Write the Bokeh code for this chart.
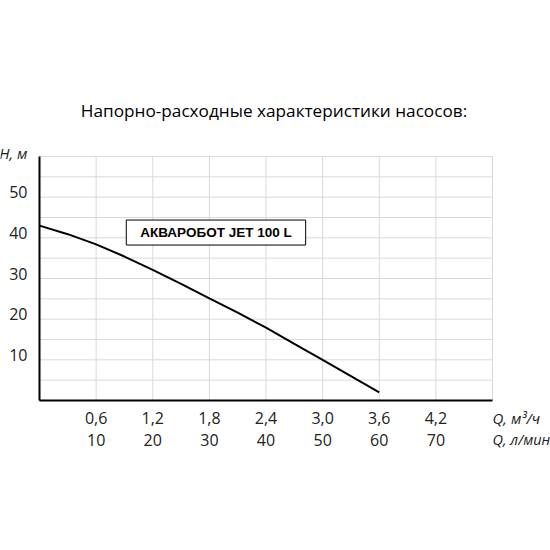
from bokeh.plotting import figure
from bokeh.models import Range1d, Label
from bokeh.core.properties import value
from bokeh.embed import file_html
from bokeh.resources import INLINE

# ---- Data ----
q_m3h = [0.0, 0.3, 0.6, 0.9, 1.2, 1.5, 1.8, 2.1, 2.4, 2.7, 3.0, 3.3, 3.6]
head_m = [43.0, 40.9, 38.4, 35.4, 32.1, 28.7, 25.1, 21.6, 17.9, 13.9, 10.0, 6.0, 2.0]

x_tick_pos = [0.6, 1.2, 1.8, 2.4, 3.0, 3.6, 4.2]
x_labels_m3h = ["0,6", "1,2", "1,8", "2,4", "3,0", "3,6", "4,2"]
x_labels_lmin = ["10", "20", "30", "40", "50", "60", "70"]
y_tick_pos = [10, 20, 30, 40, 50]
y_labels = ["10", "20", "30", "40", "50"]
grid_x = [0.6, 1.2, 1.8, 2.4, 3.0, 3.6, 4.2, 4.8]
grid_y = [5, 10, 15, 20, 25, 30, 35, 40, 45, 50, 55, 60]
x_max, y_max = 4.8, 60

title_text = "Напорно-расходные характеристики насосов:"
series_name = "АКВАРОБОТ JET 100 L"
x_unit_1 = "Q, м³/ч"
x_unit_2 = "Q, л/мин"
y_unit = "H, м"

FONT = "Open Sans"
TXT = "#222222"

# Frame spans whole canvas; plot area (0..4.8, 0..60) mapped to px 39..492 / 400..156
sx = 453 / x_max
sy = 244 / y_max
p = figure(width=550, height=550, output_backend="svg", toolbar_location=None,
           x_range=Range1d(-39 / sx, x_max + 58 / sx),
           y_range=Range1d(-150 / sy, y_max + 156 / sy),
           x_axis_location=None, y_axis_location=None, min_border=0)
p.outline_line_color = None
p.grid.visible = False
p.background_fill_color = "white"

# grid lines
p.segment(x0=grid_x, y0=[0] * len(grid_x), x1=grid_x, y1=[y_max] * len(grid_x),
          line_color="#d9d9d9", line_width=1)
p.segment(x0=[0] * len(grid_y), y0=grid_y, x1=[x_max] * len(grid_y), y1=grid_y,
          line_color="#d9d9d9", line_width=1)
# axis lines
p.segment(x0=[0, 0], y0=[0, 0], x1=[0, x_max], y1=[y_max, 0], line_color="black", line_width=2)

# curve
p.line(q_m3h, head_m, line_color="black", line_width=2, line_join="round")

# tick labels
p.text(x=x_tick_pos, y=[0] * len(x_tick_pos), text=x_labels_m3h, text_align="center",
       text_baseline="middle", y_offset=17, text_font=value(FONT), text_font_size="16px",
       text_color=TXT)
p.text(x=x_tick_pos, y=[0] * len(x_tick_pos), text=x_labels_lmin, text_align="center",
       text_baseline="middle", y_offset=39, text_font=value(FONT), text_font_size="16px",
       text_color=TXT)
p.text(x=[0] * len(y_tick_pos), y=y_tick_pos, text=y_labels, text_align="right",
       text_baseline="middle", x_offset=-12, y_offset=-5, text_font=value(FONT),
       text_font_size="16px", text_color=TXT)

# units
p.text(x=[x_max], y=[0], text=[x_unit_1], text_align="left", text_baseline="middle",
       x_offset=0, y_offset=17, text_font=value(FONT), text_font_style="italic",
       text_font_size="15px", text_color=TXT)
p.text(x=[x_max], y=[0], text=[x_unit_2], text_align="left", text_baseline="middle",
       x_offset=0, y_offset=39, text_font=value(FONT), text_font_style="italic",
       text_font_size="14.5px", text_color=TXT)
p.text(x=[0], y=[y_max], text=[y_unit], text_align="right", text_baseline="middle",
       x_offset=-12, y_offset=-4, text_font=value(FONT), text_font_style="italic",
       text_font_size="15px", text_color=TXT)

# title
p.text(x=[x_max / 2], y=[y_max], text=[title_text], text_align="center", text_baseline="middle",
       x_offset=8, y_offset=-46, text_font=value(FONT), text_font_size="17.2px", text_color="black")

# series name box
p.add_layout(Label(x=1.87, y=41.3, text=series_name, text_align="center", text_baseline="middle",
                   text_font="Liberation Sans", text_font_style="bold", text_font_size="13.5px",
                   text_color="black", border_line_color="black", border_line_width=1,
                   background_fill_color="white", padding=(14, 5)))

open("out.html", "w").write(file_html(p, INLINE))
